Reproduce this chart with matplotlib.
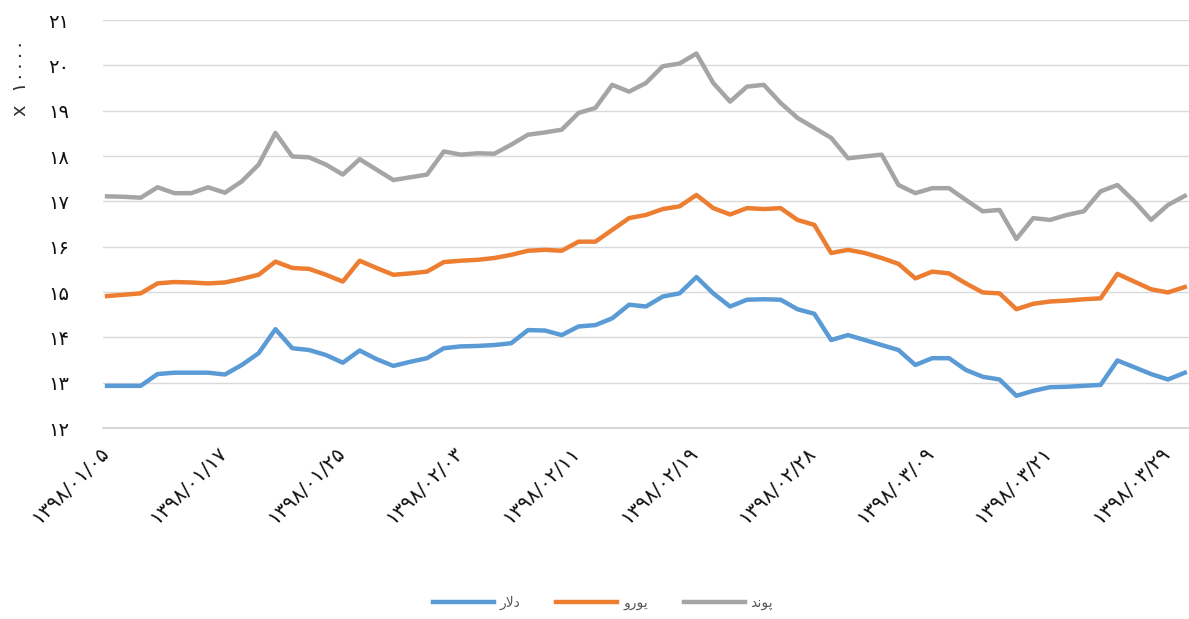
import matplotlib
matplotlib.use("Agg")
import matplotlib.pyplot as plt
import matplotlib.transforms as mtransforms
from matplotlib.lines import Line2D

plt.rcParams['font.family'] = ['DejaVu Sans', 'Noto Sans']

# Values x 10000 rial
pound = [17.11, 17.10, 17.08, 17.31, 17.18, 17.18, 17.31, 17.19, 17.44, 17.81,
         18.51, 17.99, 17.97, 17.81, 17.59, 17.93, 17.70, 17.47, 17.53, 17.59,
         18.10, 18.03, 18.06, 18.05, 18.25, 18.47, 18.52, 18.58, 18.95, 19.06,
         19.57, 19.42, 19.61, 19.98, 20.04, 20.26, 19.61, 19.20, 19.53, 19.57,
         19.17, 18.84, 18.62, 18.40, 17.95, 17.99, 18.03, 17.36, 17.18, 17.29,
         17.29, 17.03, 16.78, 16.81, 16.17, 16.63, 16.59, 16.70, 16.78, 17.22,
         17.36, 17.00, 16.59, 16.92, 17.12]
euro = [14.91, 14.94, 14.97, 15.19, 15.22, 15.21, 15.19, 15.21, 15.29, 15.38,
        15.67, 15.53, 15.51, 15.38, 15.23, 15.69, 15.53, 15.38, 15.41, 15.45,
        15.66, 15.69, 15.71, 15.75, 15.82, 15.91, 15.93, 15.91, 16.11, 16.11,
        16.37, 16.63, 16.70, 16.83, 16.89, 17.14, 16.85, 16.71, 16.85, 16.83,
        16.85, 16.59, 16.48, 15.86, 15.93, 15.86, 15.75, 15.62, 15.30, 15.45,
        15.41, 15.19, 14.99, 14.97, 14.62, 14.74, 14.79, 14.81, 14.84, 14.86,
        15.40, 15.23, 15.06, 14.99, 15.11]
dollar = [12.93, 12.93, 12.93, 13.19, 13.22, 13.22, 13.22, 13.18, 13.39, 13.65,
          14.18, 13.76, 13.72, 13.61, 13.44, 13.71, 13.52, 13.37, 13.46, 13.54,
          13.76, 13.80, 13.81, 13.83, 13.87, 14.16, 14.15, 14.05, 14.24, 14.27,
          14.42, 14.72, 14.68, 14.90, 14.97, 15.33, 14.97, 14.68, 14.83, 14.84,
          14.83, 14.62, 14.52, 13.94, 14.05, 13.94, 13.83, 13.72, 13.39, 13.54,
          13.54, 13.28, 13.13, 13.07, 12.71, 12.82, 12.90, 12.91, 12.93, 12.95,
          13.49, 13.34, 13.19, 13.07, 13.22]

date_labels = ['۱۳۹۸/۰۱/۰۵', '۱۳۹۸/۰۱/۱۷', '۱۳۹۸/۰۱/۲۵', '۱۳۹۸/۰۲/۰۳',
               '۱۳۹۸/۰۲/۱۱', '۱۳۹۸/۰۲/۱۹', '۱۳۹۸/۰۲/۲۸', '۱۳۹۸/۰۳/۰۹',
               '۱۳۹۸/۰۳/۲۱', '۱۳۹۸/۰۳/۲۹']
y_ticks = list(range(12, 22))
fa_digits = str.maketrans('0123456789', '۰۱۲۳۴۵۶۷۸۹')
y_labels = [str(v).translate(fa_digits) for v in y_ticks]

# pre-shaped (visual order) Persian legend names
name_dollar = '\uFEAD\uFEFB\uFEA9'          # دلار
name_euro = '\uFEED\uFEAD\uFEEE\uFEF3'      # یورو
name_pound = '\uFEAA\uFEE7\uFEEE\uFB58'     # پوند

c_blue, c_orange, c_gray = '#5B9BD5', '#ED7D31', '#A5A5A5'

W, H = 1189, 619
fig = plt.figure(figsize=(W / 100, H / 100), dpi=100)
ax = fig.add_axes([103 / W, (H - 428) / H, (1189 - 103) / W, (428 - 20) / H])

x = list(range(len(pound)))
ax.plot(x, pound, color=c_gray, lw=3.2, solid_joinstyle='round', zorder=3)
ax.plot(x, euro, color=c_orange, lw=3.2, solid_joinstyle='round', zorder=3)
ax.plot(x, dollar, color=c_blue, lw=3.2, solid_joinstyle='round', zorder=3)

ax.set_xlim(-0.24, 64.25)
ax.set_ylim(12, 21)
ax.set_yticks(y_ticks)
ax.set_yticklabels(y_labels, fontsize=14, color='#111111')
ax.yaxis.grid(True, color='#d9d9d9', lw=1.0)
ax.set_axisbelow(True)
ax.tick_params(axis='y', length=0, pad=24)

tick_pos = list(range(0, len(pound), 7))
ax.set_xticks(tick_pos)
ax.set_xticklabels(date_labels, fontsize=14.5, color='#111111',
                   rotation=45, ha='right', va='top', rotation_mode='anchor')
ax.tick_params(axis='x', length=0, pad=11)
shift = mtransforms.ScaledTranslation(-8 / 100, 0, fig.dpi_scale_trans)
for lbl in ax.get_xticklabels():
    lbl.set_transform(lbl.get_transform() + shift)

for s in ['top', 'right', 'left']:
    ax.spines[s].set_visible(False)
ax.spines['bottom'].set_color('#d0d0d0')
ax.spines['bottom'].set_linewidth(1.2)

fig.text(20 / W, 1 - 78 / H, 'x  ۱۰۰۰۰', rotation=90, ha='center', va='center',
         fontsize=14, color='#333333')

handles = [Line2D([], [], color=c_blue, lw=3.2),
           Line2D([], [], color=c_orange, lw=3.2),
           Line2D([], [], color=c_gray, lw=3.2)]
fig.legend(handles, [name_dollar, name_euro, name_pound], loc='center',
           bbox_to_anchor=(603 / W, 1 - 603 / H), ncol=3, frameon=False,
           fontsize=10, labelcolor='#595959', handlelength=4.4,
           handletextpad=0.4, columnspacing=2.6)

fig.savefig('out.png', dpi=100, facecolor='white')
